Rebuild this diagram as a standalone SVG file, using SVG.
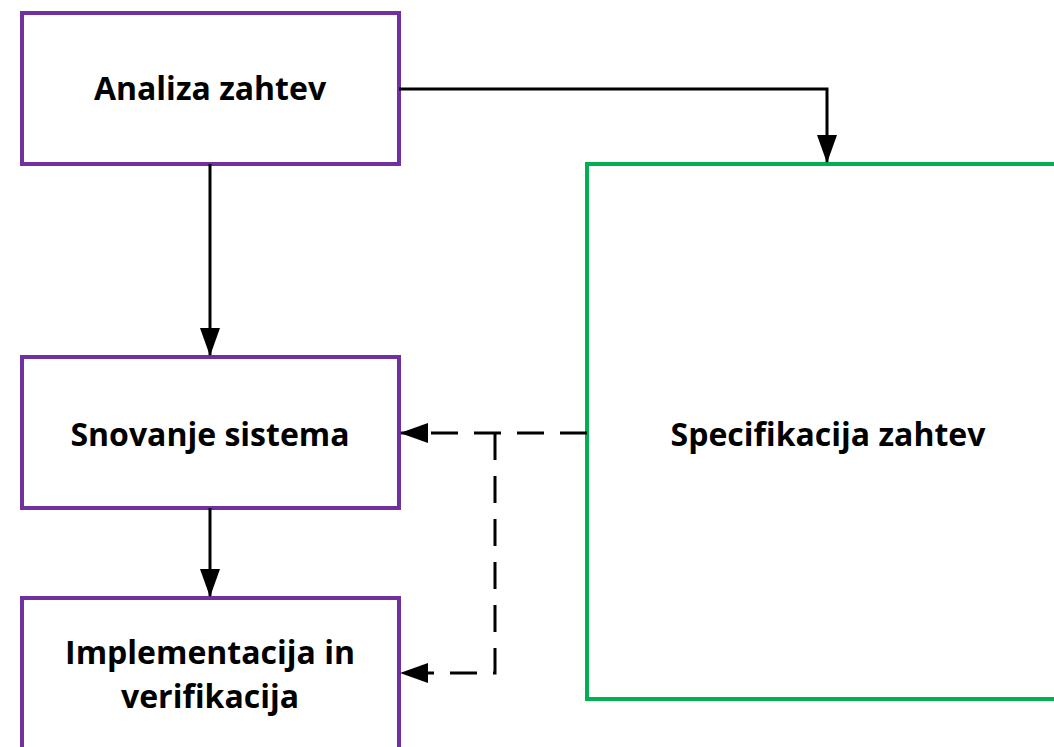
<svg xmlns="http://www.w3.org/2000/svg" width="1054" height="747" viewBox="0 0 1054 747">
<style>
.box{fill:#fff;stroke:#7030A0;stroke-width:4}
.spec{fill:#fff;stroke:#00B050;stroke-width:4}
.lbl{font-family:"Open Sans","Liberation Sans",sans-serif;font-weight:bold;font-size:32px;fill:#000;text-anchor:middle}
.c{fill:none;stroke:#000;stroke-width:3}
.d{stroke-dasharray:27 16}
</style>
<defs>
<marker id="ah" markerUnits="userSpaceOnUse" markerWidth="28" markerHeight="20" refX="27" refY="10" orient="auto">
<path d="M0,0 L28,10 L0,20 Z" fill="#000"/>
</marker>
</defs>
<rect width="1054" height="747" fill="#fff"/>
<g id="n-spec"><rect class="spec" x="587" y="164" width="480" height="535"/><text class="lbl" x="828" y="446">Specifikacija zahtev</text></g>
<g id="n-analiza"><rect class="box" x="22" y="13" width="377" height="151"/><text class="lbl" x="210" y="100">Analiza zahtev</text></g>
<g id="n-snovanje"><rect class="box" x="22" y="357" width="377" height="151"/><text class="lbl" x="210" y="446">Snovanje sistema</text></g>
<g id="n-impl"><rect class="box" x="22" y="598" width="377" height="170"/><text class="lbl" x="210" y="664">Implementacija in</text><text class="lbl" x="210" y="708">verifikacija</text></g>
<g id="connectors">
<path class="c" d="M399,89 H827 V162" marker-end="url(#ah)"/>
<path class="c" d="M210,164 V355" marker-end="url(#ah)"/>
<path class="c" d="M210,508 V596" marker-end="url(#ah)"/>
<path class="c d" d="M587,433 H401" marker-end="url(#ah)"/>
<path class="c d" d="M495,433 V673 H401" marker-end="url(#ah)"/>
</g>
</svg>
